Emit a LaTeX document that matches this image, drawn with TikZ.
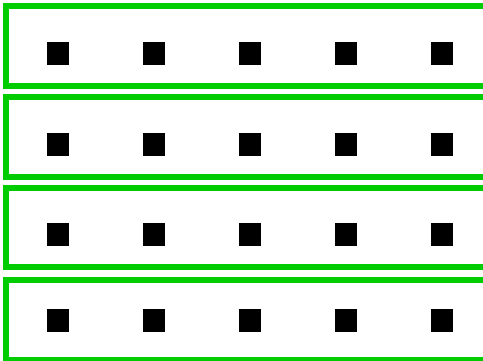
\documentclass[tikz,border=0pt]{standalone}
\usepackage{tikz}

\definecolor{lanegreen}{RGB}{0,204,0}

\begin{document}
\begin{tikzpicture}[x=1pt, y=-1pt,
    lane/.style={draw=lanegreen, line width=6pt},
    dot/.style={fill=black, draw=none, inner sep=0pt, minimum size=22.6pt}]
                \useasboundingbox (0,0) rectangle (483,360);
                \clip (0,0) rectangle (483,360);
                
                % Bands
                \draw[lane] (6,6.3) rectangle (520,86);
                \draw[lane] (6,97) rectangle (520,177);
                \draw[lane] (6,187.7) rectangle (520,267);
                \draw[lane] (6,279.7) rectangle (520,359.7);
                
                % Squares
                \foreach \r/\y in {1/53.7, 2/144.7, 3/234.7, 4/320.5}
                    \foreach \c/\x in {1/58, 2/154, 3/250, 4/346, 5/442}
                        \node[dot] (sq-\r-\c) at (\x,\y) {};
            \end{tikzpicture}
\end{document}
